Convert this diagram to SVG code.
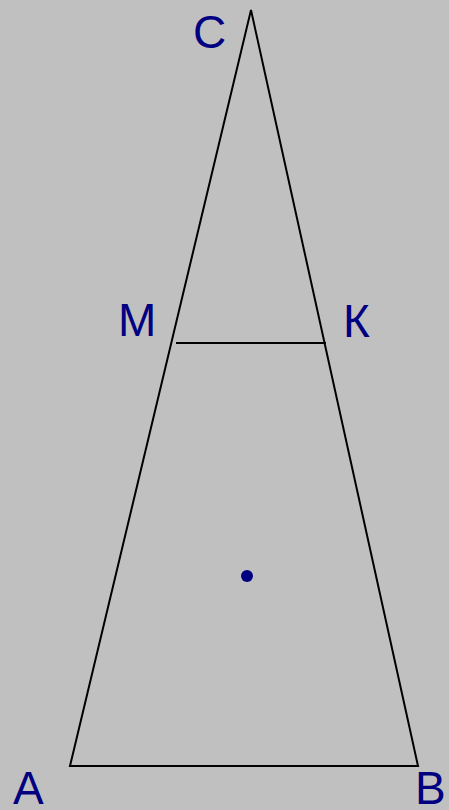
<svg xmlns="http://www.w3.org/2000/svg" width="449" height="810" viewBox="0 0 449 810">
<style>
.lbl{font-family:"Liberation Sans",Arial,sans-serif;font-size:46px;fill:#000080}
.ln{stroke:#000;stroke-width:2;fill:none}
</style>
<rect x="0" y="0" width="449" height="810" fill="#c0c0c0"/>
<g id="connectors">
<path class="ln" d="M251,10 L70,766 L418,766 Z"/>
<line class="ln" x1="176" y1="343" x2="326" y2="343"/>
</g>
<g id="C"><text class="lbl" x="193" y="48">C</text></g>
<g id="M"><text class="lbl" x="118" y="336">M</text></g>
<g id="K"><text class="lbl" x="343" y="337">К</text></g>
<g id="A"><text class="lbl" x="13" y="804">A</text></g>
<g id="B"><text class="lbl" x="415" y="804">B</text></g>
<g id="O"><circle cx="247" cy="576" r="6" fill="#000080"/></g>
</svg>
